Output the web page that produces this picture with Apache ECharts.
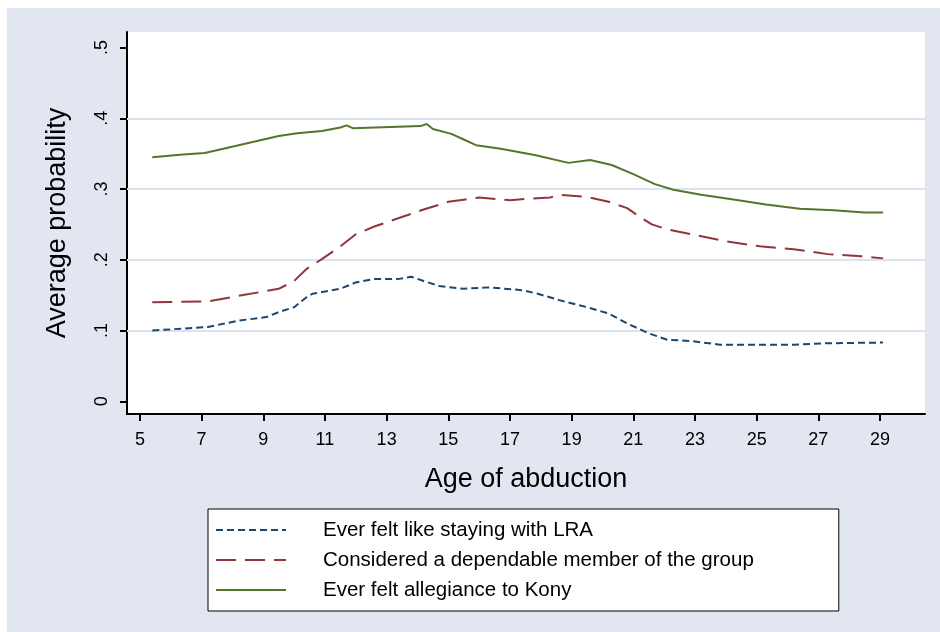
<!DOCTYPE html>
<html>
<head>
<meta charset="utf-8">
<script src="https://cdn.jsdelivr.net/npm/echarts@6/dist/echarts.min.js"></script>
<style>
html, body { margin: 0; padding: 0; background: #fff; }
#chart { position: absolute; left: 7px; top: 8px; width: 933px; height: 624px; }
</style>
</head>
<body>
<div id="chart"></div>
<script>
// 軸の目盛り
const xTicks = [5, 7, 9, 11, 13, 15, 17, 19, 21, 23, 25, 27, 29];
const yTicks = [0, 0.1, 0.2, 0.3, 0.4, 0.5];
const yGridLines = [0.1, 0.2, 0.3, 0.4];

// Ever felt like staying with LRA
const ageLra = [5.4, 7.2, 8.2, 9.1, 9.5, 10.0, 10.4, 10.6, 11.5, 12.0, 12.6, 13.4, 13.8, 14.2, 14.7, 15.5, 16.3, 17.4, 17.9, 18.6, 19.5, 20.2, 20.8, 21.5, 22.1, 22.9, 23.8, 26.2, 27.3, 29.1];
const probLra = [.100, .105, .114, .119, .126, .133, .147, .152, .159, .168, .173, .173, .176, .170, .163, .159, .161, .157, .152, .143, .133, .124, .110, .096, .087, .085, .080, .080, .082, .083];

// Considered a dependable member of the group
const ageMember = [5.4, 7.2, 8.2, 9.5, 10.0, 10.4, 10.9, 11.5, 12.0, 12.6, 13.4, 14.2, 15.0, 15.5, 16.0, 17.0, 17.5, 18.3, 18.6, 19.5, 20.2, 20.8, 21.2, 21.6, 22.1, 22.9, 24.0, 25.1, 26.2, 27.3, 28.4, 29.1];
const probMember = [.140, .141, .149, .159, .170, .187, .201, .219, .236, .247, .259, .271, .282, .285, .288, .284, .286, .288, .292, .289, .282, .273, .261, .250, .243, .236, .226, .219, .215, .208, .205, .202];

// Ever felt allegiance to Kony
const ageKony = [5.4, 6.4, 7.1, 8.2, 9.5, 10.1, 10.9, 11.5, 11.7, 11.9, 14.1, 14.3, 14.5, 15.1, 15.5, 15.9, 16.7, 17.8, 18.9, 19.6, 20.3, 21.0, 21.7, 22.3, 23.2, 24.3, 25.3, 26.4, 27.5, 28.5, 29.1];
const probKony = [.345, .349, .351, .362, .375, .379, .382, .387, .390, .386, .389, .392, .385, .378, .370, .362, .357, .348, .337, .341, .334, .321, .307, .299, .292, .285, .278, .272, .270, .267, .267];

const names = ['Ever felt like staying with LRA', 'Considered a dependable member of the group', 'Ever felt allegiance to Kony'];

function pairs(xs, ys) {
    return xs.map((x, i) => [x, ys[i]]);
}

const font = '"Liberation Sans", Arial, sans-serif';

const chart = echarts.init(document.getElementById('chart'));

const option = {
    animation: false,
    backgroundColor: '#e1e6f0',
    textStyle: { fontFamily: font, color: '#000' },
    grid: {
        left: 120,
        top: 24,
        right: 15,
        bottom: 218,
        show: true,
        backgroundColor: '#fff',
        borderWidth: 0
    },
    xAxis: {
        type: 'value',
        min: 4.58,
        max: 30.46,
        name: 'Age of abduction',
        nameLocation: 'middle',
        nameGap: 52,
        nameTextStyle: { fontSize: 27, fontFamily: font, color: '#000' },
        axisLine: { show: true, onZero: false, lineStyle: { color: '#000', width: 2 } },
        axisTick: { show: true, length: 7, customValues: xTicks, lineStyle: { color: '#000', width: 2 } },
        axisLabel: { customValues: xTicks, fontSize: 18, margin: 17, color: '#000', fontFamily: font },
        splitLine: { show: false }
    },
    yAxis: {
        type: 'value',
        min: -0.018,
        max: 0.522,
        name: 'Average probability',
        nameLocation: 'middle',
        nameGap: 56,
        nameRotate: 90,
        nameTextStyle: { fontSize: 27, fontFamily: font, color: '#000' },
        axisLine: { show: true, onZero: false, lineStyle: { color: '#000', width: 2 } },
        axisTick: { show: true, length: 7, customValues: yTicks, lineStyle: { color: '#000', width: 2 } },
        axisLabel: {
            customValues: yTicks,
            rotate: 90,
            fontSize: 18,
            margin: 16,
            color: '#000',
            fontFamily: font,
            formatter: v => v === 0 ? '0' : String(+v.toFixed(2)).replace(/^0/, '')
        },
        splitLine: { show: false }
    },
    legend: {
        orient: 'vertical',
        left: 201,
        top: 501,
        data: names,
        backgroundColor: '#fff',
        borderColor: '#000',
        borderWidth: 1,
        padding: [9, 85, 9, 7],
        itemWidth: 70,
        itemHeight: 14,
        itemGap: 6,
        itemStyle: { opacity: 0 },
        textStyle: { fontSize: 20.5, lineHeight: 24, fontFamily: font, color: '#000', padding: [0, 0, 0, 32] }
    },
    series: [
        {
            name: 'grid',
            type: 'line',
            data: [],
            silent: true,
            markLine: {
                z: 1,
                silent: true,
                symbol: ['none', 'none'],
                label: { show: false },
                lineStyle: { color: '#dde3ee', type: 'solid', width: 2 },
                data: yGridLines.map(v => ({ yAxis: v }))
            }
        },
        {
            name: names[0],
            type: 'line',
            data: pairs(ageLra, probLra),
            symbol: 'none',
            color: '#1a476f',
            lineStyle: { color: '#1a476f', width: 2, type: [7, 4] }
        },
        {
            name: names[1],
            type: 'line',
            data: pairs(ageMember, probMember),
            symbol: 'none',
            color: '#90353b',
            lineStyle: { color: '#90353b', width: 2, type: [20, 9] }
        },
        {
            name: names[2],
            type: 'line',
            data: pairs(ageKony, probKony),
            symbol: 'none',
            color: '#55752f',
            lineStyle: { color: '#55752f', width: 2, type: 'solid' }
        }
    ]
};

chart.setOption(option);
</script>
</body>
</html>
